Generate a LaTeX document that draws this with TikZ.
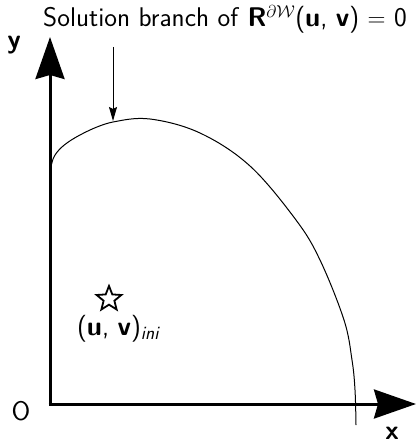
\documentclass[tikz,border=0pt]{standalone}
\usepackage{amsmath}
\usetikzlibrary{arrows.meta,shapes.geometric}
\begin{document}
\begin{tikzpicture}[x=1pt,y=-1pt,
  axis/.style={line width=3pt,-{Stealth[length=42pt,width=29pt,inset=4pt]}},
  curve/.style={line width=1pt},
  pointer/.style={line width=1pt,-{Stealth[length=14pt,width=8pt,inset=2pt]}},
  lbl/.style={font=\fontsize{27}{32}\selectfont\sffamily,inner sep=0pt},
  blbl/.style={font=\fontsize{27}{32}\selectfont\sffamily\bfseries,inner sep=0pt},
  starmark/.style={star,star points=5,star point ratio=2.3,draw,line width=1.8pt,minimum size=26pt,inner sep=0pt}]
\useasboundingbox (0,0) rectangle (416,444);
\coordinate (O) at (50,404);
\coordinate (ytip) at (50,37);
\coordinate (xtip) at (416,404);
\draw[axis] ([yshift=1.5pt]O) -- (ytip);
\draw[axis] ([xshift=-1.5pt]O) -- (xtip);
\draw[curve] (51,170) .. controls (51,155) and (60,144) .. (90,130)
  plot[smooth,tension=0.6] coordinates {(90,130) (113,122) (150,119) (200,133) (250,166) (296,220) (320,260) (344,320) (352,360) (355,390) (356,425)};
\coordinate (peak) at (113,121);
\coordinate (ptail) at (113,47);
\draw[pointer] (ptail) -- (peak);
\node[lbl] (title) at (225,19) {Solution branch of \textbf{R}$^{\partial\mathcal{W}}$(\textbf{u}, \textbf{v}) $=$ 0};
\node[blbl] (ylbl) at (14,45) {y};
\node[blbl] (xlbl) at (392,433) {x};
\node[lbl] (olbl) at (21,411) {O};
\node[starmark] (ini) at (109,299) {};
\node[lbl] (inilbl) at (118,329) {(\textbf{u}, \textbf{v})$_{\text{\itshape ini}}$};
\end{tikzpicture}
\end{document}
